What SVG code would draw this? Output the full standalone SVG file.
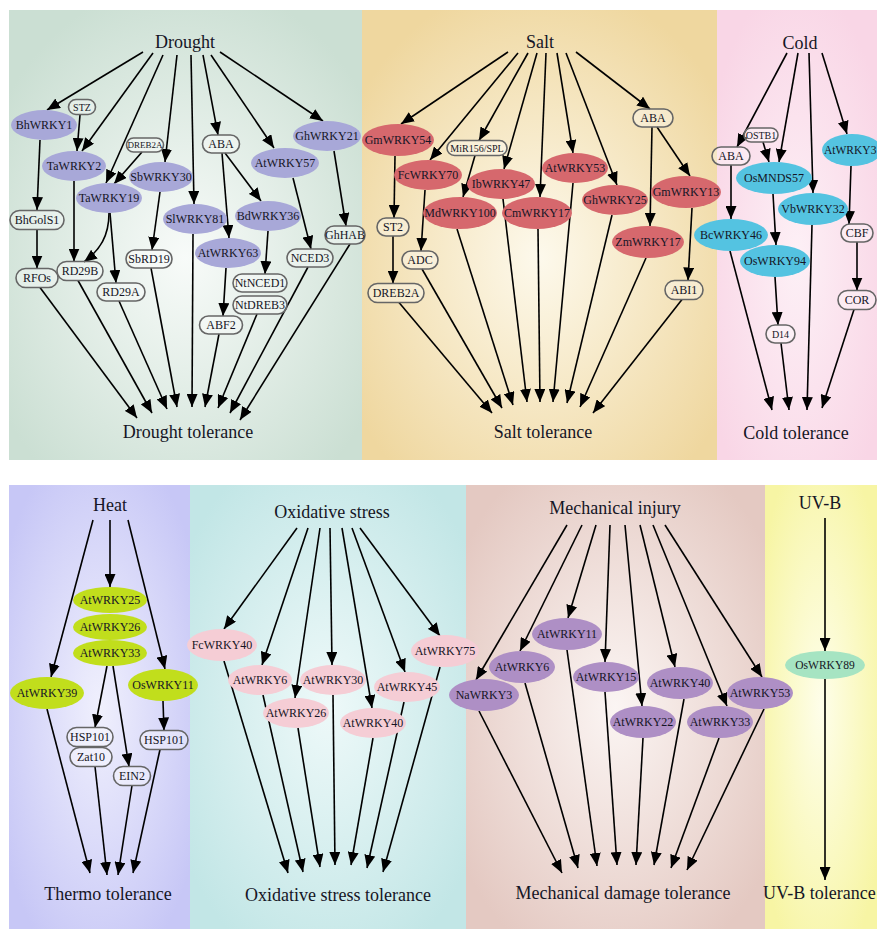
<svg xmlns="http://www.w3.org/2000/svg" width="877" height="929" viewBox="0 0 877 929">
<defs>
<style>
text{font-family:"Liberation Serif","Times New Roman",serif;fill:#151525;text-anchor:middle;dominant-baseline:central}
.ti{font-size:18px}
.n{font-size:12px}
.s{font-size:10px}
.xs{font-size:9px}
.bx{fill:#ffffff;fill-opacity:.35;stroke:#666666;stroke-width:1.6}
.dr{fill:#a8a8d8}.sa{fill:#d6686d}.co{fill:#54c3e1}.he{fill:#c1de1c}.ox{fill:#f5cdd5}.me{fill:#ae8fc5}.uv{fill:#a6e4c2}
#edges line,#edges path{stroke:#000;stroke-width:1.6;fill:none;marker-end:url(#ah)}
</style>
<marker id="ah" viewBox="0 0 13 11" refX="13" refY="5.5" markerWidth="13" markerHeight="11" orient="auto" markerUnits="userSpaceOnUse"><path d="M0,0 L13,5.5 L0,11 z" fill="#000"/></marker>
<radialGradient id="gDr" cx="0.5" cy="0.55" r="0.62"><stop offset="0" stop-color="#f8fbf9"/><stop offset="1" stop-color="#cbdfd3"/></radialGradient>
<radialGradient id="gSa" cx="0.5" cy="0.55" r="0.62"><stop offset="0" stop-color="#fdf9ec"/><stop offset="1" stop-color="#efd79f"/></radialGradient>
<radialGradient id="gCo" cx="0.5" cy="0.55" r="0.62"><stop offset="0" stop-color="#fdf0f6"/><stop offset="1" stop-color="#f9d6e6"/></radialGradient>
<radialGradient id="gHe" cx="0.5" cy="0.5" r="0.62"><stop offset="0" stop-color="#f0f0fd"/><stop offset="1" stop-color="#c7c7f6"/></radialGradient>
<radialGradient id="gOx" cx="0.5" cy="0.5" r="0.62"><stop offset="0" stop-color="#eef9f9"/><stop offset="1" stop-color="#c2e6e6"/></radialGradient>
<radialGradient id="gMe" cx="0.5" cy="0.5" r="0.62"><stop offset="0" stop-color="#fbf5f3"/><stop offset="1" stop-color="#e4c9c2"/></radialGradient>
<radialGradient id="gUv" cx="0.5" cy="0.5" r="0.62"><stop offset="0" stop-color="#fefeea"/><stop offset="1" stop-color="#f7f5a4"/></radialGradient>
</defs>
<rect width="877" height="929" fill="#ffffff"/>
<g id="panels">
<rect x="9" y="10" width="353" height="450" fill="url(#gDr)"/>
<rect x="362" y="10" width="355" height="450" fill="url(#gSa)"/>
<rect x="717" y="10" width="160" height="450" fill="url(#gCo)"/>
<rect x="9" y="485" width="181" height="444" fill="url(#gHe)"/>
<rect x="190" y="485" width="276" height="444" fill="url(#gOx)"/>
<rect x="466" y="485" width="299" height="444" fill="url(#gMe)"/>
<rect x="765" y="485" width="112" height="444" fill="url(#gUv)"/>
</g>
<g id="edges">
<!-- Drought -->
<line x1="143" y1="52" x2="47" y2="110"/>
<line x1="153" y1="53" x2="82" y2="151"/>
<line x1="163" y1="55" x2="106" y2="183"/>
<line x1="177" y1="55" x2="165" y2="162"/>
<line x1="191" y1="55" x2="194" y2="204"/>
<line x1="203" y1="55" x2="218" y2="135"/>
<line x1="211" y1="55" x2="274" y2="148"/>
<line x1="220" y1="52" x2="323" y2="121"/>
<line x1="80" y1="115" x2="77" y2="151"/>
<line x1="40" y1="140" x2="37" y2="210"/>
<line x1="142" y1="152" x2="114" y2="184"/>
<line x1="225" y1="153" x2="261" y2="201"/>
<line x1="222" y1="153" x2="229" y2="238"/>
<line x1="268" y1="231" x2="265" y2="274"/>
<line x1="226" y1="268" x2="223" y2="316"/>
<line x1="293" y1="178" x2="311" y2="249"/>
<line x1="334" y1="151" x2="346" y2="226"/>
<line x1="74" y1="181" x2="74" y2="261.5"/>
<path d="M109,213 C109,236 100,250 84,262"/>
<line x1="110" y1="213" x2="116" y2="283"/>
<line x1="160" y1="192" x2="152" y2="250"/>
<line x1="37" y1="229.5" x2="37" y2="268.5"/>
<line x1="193" y1="234" x2="192" y2="407"/>
<line x1="151" y1="268" x2="177" y2="407"/>
<line x1="308" y1="267" x2="230" y2="413"/>
<line x1="350" y1="244" x2="240" y2="420"/>
<line x1="257" y1="314" x2="218" y2="408"/>
<line x1="219" y1="334" x2="205" y2="407"/>
<line x1="119" y1="301" x2="167" y2="409"/>
<line x1="78" y1="280.5" x2="152" y2="413"/>
<line x1="40" y1="287.5" x2="137" y2="418"/>
<!-- Salt -->
<line x1="508" y1="52" x2="401" y2="124"/>
<line x1="518" y1="53" x2="430" y2="160"/>
<line x1="528" y1="53" x2="479" y2="140.5"/>
<line x1="537" y1="53" x2="504" y2="169"/>
<line x1="546" y1="53" x2="540" y2="197"/>
<line x1="557" y1="53" x2="573" y2="153"/>
<line x1="566" y1="53" x2="617" y2="185"/>
<line x1="576" y1="52" x2="650" y2="109"/>
<line x1="395" y1="156" x2="394" y2="218"/>
<line x1="393" y1="236" x2="393" y2="283.5"/>
<line x1="425" y1="190" x2="421" y2="251"/>
<line x1="475" y1="155.5" x2="463" y2="197"/>
<line x1="657" y1="127" x2="690" y2="176"/>
<line x1="652" y1="127" x2="650" y2="226"/>
<line x1="692" y1="208" x2="688" y2="280.5"/>
<line x1="399" y1="302.5" x2="492" y2="413"/>
<line x1="422" y1="269" x2="502" y2="408"/>
<line x1="457" y1="229" x2="513" y2="405"/>
<line x1="503" y1="199" x2="527" y2="402"/>
<line x1="538" y1="229" x2="540" y2="402"/>
<line x1="573" y1="183" x2="553" y2="402"/>
<line x1="612" y1="215" x2="567" y2="403"/>
<line x1="646" y1="258" x2="580" y2="407"/>
<line x1="682" y1="299.5" x2="593" y2="413"/>
<!-- Cold -->
<line x1="787" y1="53" x2="737" y2="147"/>
<line x1="798" y1="53" x2="779" y2="162"/>
<line x1="809" y1="53" x2="813" y2="193"/>
<line x1="822" y1="53" x2="847" y2="134"/>
<line x1="763" y1="142" x2="769" y2="162"/>
<line x1="731" y1="165" x2="731" y2="219"/>
<line x1="773" y1="194" x2="776" y2="245"/>
<line x1="851" y1="166" x2="849" y2="224"/>
<line x1="857" y1="242" x2="857" y2="290.5"/>
<line x1="775" y1="277" x2="778" y2="325"/>
<line x1="730" y1="251" x2="772" y2="410"/>
<line x1="781" y1="343" x2="789" y2="410"/>
<line x1="812" y1="225" x2="807" y2="410"/>
<line x1="854" y1="309.5" x2="822" y2="408"/>
<!-- Heat -->
<line x1="93" y1="520" x2="51" y2="677"/>
<line x1="110" y1="520" x2="110" y2="587"/>
<line x1="128" y1="520" x2="165" y2="669"/>
<line x1="107" y1="666" x2="95" y2="727.5"/>
<line x1="113" y1="666" x2="129" y2="766.5"/>
<line x1="163" y1="701" x2="164" y2="730.5"/>
<line x1="47" y1="709" x2="90" y2="873"/>
<line x1="95" y1="766.5" x2="107" y2="875"/>
<line x1="132" y1="785.5" x2="118" y2="875"/>
<line x1="160" y1="749.5" x2="133" y2="873"/>
<!-- Oxidative -->
<line x1="297" y1="528" x2="224" y2="629"/>
<line x1="308" y1="528" x2="262" y2="665"/>
<line x1="320" y1="528" x2="295" y2="698"/>
<line x1="330" y1="528" x2="332" y2="665"/>
<line x1="342" y1="528" x2="372" y2="708"/>
<line x1="352" y1="528" x2="405" y2="672"/>
<line x1="360" y1="528" x2="440" y2="636"/>
<line x1="224" y1="661" x2="288" y2="873"/>
<line x1="263" y1="695" x2="303" y2="872"/>
<line x1="298" y1="728" x2="320" y2="867"/>
<line x1="333" y1="695" x2="335" y2="865"/>
<line x1="373" y1="738" x2="351" y2="865"/>
<line x1="404" y1="702" x2="367" y2="868"/>
<line x1="440" y1="667" x2="383" y2="872"/>
<!-- Mechanical -->
<line x1="567" y1="525" x2="476" y2="680"/>
<line x1="582" y1="525" x2="520" y2="651"/>
<line x1="596" y1="525" x2="568" y2="618"/>
<line x1="610" y1="525" x2="605" y2="662"/>
<line x1="625" y1="525" x2="642" y2="706"/>
<line x1="640" y1="525" x2="675" y2="667"/>
<line x1="653" y1="525" x2="727" y2="706"/>
<line x1="665" y1="525" x2="762" y2="677"/>
<line x1="479" y1="711" x2="562" y2="873"/>
<line x1="525" y1="683" x2="578" y2="868"/>
<line x1="567" y1="650" x2="597" y2="866"/>
<line x1="605" y1="692" x2="617" y2="865"/>
<line x1="643" y1="738" x2="636" y2="865"/>
<line x1="684" y1="699" x2="654" y2="865"/>
<line x1="719" y1="738" x2="671" y2="868"/>
<line x1="764" y1="709" x2="687" y2="870"/>
<!-- UV-B -->
<line x1="825" y1="518" x2="825" y2="651"/>
<line x1="825" y1="679" x2="825" y2="880"/>
</g>
<!-- Titles -->
<g id="t-drought"><text class="ti" x="185" y="42">Drought</text></g>
<g id="t-drought-tol"><text class="ti" x="188" y="432">Drought tolerance</text></g>
<g id="t-salt"><text class="ti" x="540" y="42">Salt</text></g>
<g id="t-salt-tol"><text class="ti" x="543" y="432">Salt tolerance</text></g>
<g id="t-cold"><text class="ti" x="800" y="43">Cold</text></g>
<g id="t-cold-tol"><text class="ti" x="796" y="433">Cold tolerance</text></g>
<g id="t-heat"><text class="ti" x="110" y="505">Heat</text></g>
<g id="t-heat-tol"><text class="ti" x="108" y="894">Thermo tolerance</text></g>
<g id="t-ox"><text class="ti" x="332" y="512">Oxidative stress</text></g>
<g id="t-ox-tol"><text class="ti" x="338" y="895">Oxidative stress tolerance</text></g>
<g id="t-mech"><text class="ti" x="615" y="508">Mechanical injury</text></g>
<g id="t-mech-tol"><text class="ti" x="623" y="893">Mechanical damage tolerance</text></g>
<g id="t-uvb"><text class="ti" x="820" y="503">UV-B</text></g>
<g id="t-uvb-tol"><text class="ti" x="763" y="893" style="text-anchor:start">UV-B tolerance</text></g>
<!-- Drought nodes -->
<g id="d-bhwrky1"><ellipse class="dr" cx="44" cy="125" rx="33" ry="15"/><text class="n" x="44" y="125">BhWRKY1</text></g>
<g id="d-stz"><rect class="bx" x="68.5" y="99.5" width="27" height="15" rx="7.5"/><text class="s" x="82" y="107">STZ</text></g>
<g id="d-tawrky2"><ellipse class="dr" cx="74" cy="166" rx="32" ry="15"/><text class="n" x="74" y="166">TaWRKY2</text></g>
<g id="d-dreb2a"><rect class="bx" x="126.5" y="138" width="37" height="14" rx="7"/><text class="xs" x="145" y="145">DREB2A</text></g>
<g id="d-sbwrky30"><ellipse class="dr" cx="161" cy="177" rx="32" ry="15"/><text class="n" x="161" y="177">SbWRKY30</text></g>
<g id="d-tawrky19"><ellipse class="dr" cx="109" cy="198" rx="33" ry="15"/><text class="n" x="109" y="198">TaWRKY19</text></g>
<g id="d-aba"><rect class="bx" x="202.5" y="135" width="37" height="18" rx="9"/><text class="n" x="221" y="144">ABA</text></g>
<g id="d-atwrky57"><ellipse class="dr" cx="285" cy="163" rx="34" ry="15"/><text class="n" x="285" y="163">AtWRKY57</text></g>
<g id="d-ghwrky21"><ellipse class="dr" cx="327" cy="136" rx="34" ry="15"/><text class="n" x="327" y="136">GhWRKY21</text></g>
<g id="d-slwrky81"><ellipse class="dr" cx="195" cy="219" rx="32" ry="15"/><text class="n" x="195" y="219">SlWRKY81</text></g>
<g id="d-bdwrky36"><ellipse class="dr" cx="268" cy="216" rx="33" ry="15"/><text class="n" x="268" y="216">BdWRKY36</text></g>
<g id="d-bhgols1"><rect class="bx" x="10" y="210.5" width="54" height="19" rx="9.5"/><text class="n" x="37" y="220">BhGolS1</text></g>
<g id="d-ghhab"><rect class="bx" x="325" y="226" width="40" height="18" rx="9"/><text class="n" x="345" y="235">GhHAB</text></g>
<g id="d-atwrky63"><ellipse class="dr" cx="228" cy="253" rx="33" ry="15"/><text class="n" x="228" y="253">AtWRKY63</text></g>
<g id="d-sbrd19"><rect class="bx" x="126" y="250" width="46" height="18" rx="9"/><text class="n" x="149" y="259">SbRD19</text></g>
<g id="d-nced3"><rect class="bx" x="287" y="249" width="46" height="18" rx="9"/><text class="n" x="310" y="258">NCED3</text></g>
<g id="d-rd29b"><rect class="bx" x="57" y="261.5" width="46" height="19" rx="9.5"/><text class="n" x="80" y="271">RD29B</text></g>
<g id="d-rfos"><rect class="bx" x="16" y="268.5" width="42" height="19" rx="9.5"/><text class="n" x="37" y="278">RFOs</text></g>
<g id="d-rd29a"><rect class="bx" x="97" y="283" width="48" height="18" rx="9"/><text class="n" x="121" y="292">RD29A</text></g>
<g id="d-ntnced1"><rect class="bx" x="233" y="274" width="54" height="18" rx="9"/><text class="n" x="260" y="283">NtNCED1</text></g>
<g id="d-ntdreb3"><rect class="bx" x="233" y="296" width="54" height="18" rx="9"/><text class="n" x="260" y="305">NtDREB3</text></g>
<g id="d-abf2"><rect class="bx" x="199.5" y="316" width="43" height="18" rx="9"/><text class="n" x="221" y="325">ABF2</text></g>
<!-- Salt nodes -->
<g id="s-gmwrky54"><ellipse class="sa" cx="398" cy="140" rx="36" ry="16"/><text class="n" x="398" y="140">GmWRKY54</text></g>
<g id="s-fcwrky70"><ellipse class="sa" cx="428" cy="175" rx="34" ry="15"/><text class="n" x="428" y="175">FcWRKY70</text></g>
<g id="s-mir156"><rect class="bx" x="447" y="140.5" width="60" height="15" rx="7.5"/><text class="s" x="477" y="148">MiR156/SPL</text></g>
<g id="s-ibwrky47"><ellipse class="sa" cx="501" cy="184" rx="34" ry="15"/><text class="n" x="501" y="184">IbWRKY47</text></g>
<g id="s-cmwrky17"><ellipse class="sa" cx="537" cy="213" rx="35" ry="16"/><text class="n" x="537" y="213">CmWRKY17</text></g>
<g id="s-atwrky53"><ellipse class="sa" cx="575" cy="168" rx="33" ry="15"/><text class="n" x="575" y="168">AtWRKY53</text></g>
<g id="s-ghwrky25"><ellipse class="sa" cx="615" cy="200" rx="33" ry="15"/><text class="n" x="615" y="200">GhWRKY25</text></g>
<g id="s-aba"><rect class="bx" x="633" y="109" width="40" height="18" rx="9"/><text class="n" x="653" y="118">ABA</text></g>
<g id="s-mdwrky100"><ellipse class="sa" cx="460" cy="213" rx="37" ry="16"/><text class="n" x="460" y="213">MdWRKY100</text></g>
<g id="s-gmwrky13"><ellipse class="sa" cx="686" cy="192" rx="35" ry="16"/><text class="n" x="686" y="192">GmWRKY13</text></g>
<g id="s-st2"><rect class="bx" x="377" y="218" width="32" height="18" rx="9"/><text class="n" x="393" y="227">ST2</text></g>
<g id="s-zmwrky17"><ellipse class="sa" cx="648" cy="242" rx="36" ry="16"/><text class="n" x="648" y="242">ZmWRKY17</text></g>
<g id="s-adc"><rect class="bx" x="402" y="251" width="36" height="18" rx="9"/><text class="n" x="420" y="260">ADC</text></g>
<g id="s-dreb2a"><rect class="bx" x="368" y="283.5" width="56" height="19" rx="9.5"/><text class="n" x="396" y="293">DREB2A</text></g>
<g id="s-abi1"><rect class="bx" x="665" y="280.5" width="38" height="19" rx="9.5"/><text class="n" x="684" y="290">ABI1</text></g>
<!-- Cold nodes -->
<g id="c-aba"><rect class="bx" x="712" y="147" width="38" height="18" rx="9"/><text class="n" x="731" y="156">ABA</text></g>
<g id="c-ostb1"><rect class="bx" x="744" y="128" width="34" height="14" rx="7"/><text class="s" x="761" y="135">OSTB1</text></g>
<g id="c-osmnds57"><ellipse class="co" cx="774" cy="178" rx="38" ry="16"/><text class="n" x="774" y="178">OsMNDS57</text></g>
<g id="c-atwrky3"><ellipse class="co" cx="852" cy="150" rx="30" ry="16"/><text class="n" x="824" y="150" style="text-anchor:start;font-size:11.5px">AtWRKY3</text></g>
<g id="c-vbwrky32"><ellipse class="co" cx="813" cy="209" rx="35" ry="16"/><text class="n" x="813" y="209">VbWRKY32</text></g>
<g id="c-bcwrky46"><ellipse class="co" cx="731" cy="235" rx="37" ry="16"/><text class="n" x="731" y="235">BcWRKY46</text></g>
<g id="c-oswrky94"><ellipse class="co" cx="775" cy="261" rx="35" ry="16"/><text class="n" x="775" y="261">OsWRKY94</text></g>
<g id="c-cbf"><rect class="bx" x="841" y="224" width="32" height="18" rx="9"/><text class="n" x="857" y="233">CBF</text></g>
<g id="c-cor"><rect class="bx" x="838" y="290.5" width="38" height="19" rx="9.5"/><text class="n" x="857" y="300">COR</text></g>
<g id="c-d14"><rect class="bx" x="766" y="325" width="29" height="18" rx="9"/><text class="s" x="780.5" y="334">D14</text></g>
<!-- Heat nodes -->
<g id="h-atwrky39"><ellipse class="he" cx="47" cy="693" rx="37" ry="16"/><text class="n" x="47" y="693">AtWRKY39</text></g>
<g id="h-atwrky25"><ellipse class="he" cx="110" cy="600" rx="37" ry="13"/><text class="n" x="110" y="600">AtWRKY25</text></g>
<g id="h-atwrky26"><ellipse class="he" cx="110" cy="627" rx="37" ry="13"/><text class="n" x="110" y="627">AtWRKY26</text></g>
<g id="h-atwrky33"><ellipse class="he" cx="110" cy="653" rx="37" ry="13"/><text class="n" x="110" y="653">AtWRKY33</text></g>
<g id="h-oswrky11"><ellipse class="he" cx="163" cy="685" rx="35" ry="16"/><text class="n" x="163" y="685">OsWRKY11</text></g>
<g id="h-hsp101a"><rect class="bx" x="67" y="727.5" width="46" height="19" rx="9.5"/><text class="n" x="90" y="737">HSP101</text></g>
<g id="h-zat10"><rect class="bx" x="70" y="747.5" width="42" height="19" rx="9.5"/><text class="n" x="91" y="757">Zat10</text></g>
<g id="h-ein2"><rect class="bx" x="113.5" y="766.5" width="37" height="19" rx="9.5"/><text class="n" x="132" y="776">EIN2</text></g>
<g id="h-hsp101b"><rect class="bx" x="140" y="730.5" width="48" height="19" rx="9.5"/><text class="n" x="164" y="740">HSP101</text></g>
<!-- Oxidative nodes -->
<g id="o-fcwrky40"><ellipse class="ox" cx="222" cy="645" rx="35" ry="16"/><text class="n" x="222" y="645">FcWRKY40</text></g>
<g id="o-atwrky6"><ellipse class="ox" cx="260" cy="680" rx="32" ry="15"/><text class="n" x="260" y="680">AtWRKY6</text></g>
<g id="o-atwrky26"><ellipse class="ox" cx="296" cy="713" rx="33" ry="15"/><text class="n" x="296" y="713">AtWRKY26</text></g>
<g id="o-atwrky30"><ellipse class="ox" cx="333" cy="680" rx="33" ry="15"/><text class="n" x="333" y="680">AtWRKY30</text></g>
<g id="o-atwrky40"><ellipse class="ox" cx="373" cy="723" rx="33" ry="15"/><text class="n" x="373" y="723">AtWRKY40</text></g>
<g id="o-atwrky45"><ellipse class="ox" cx="407" cy="687" rx="33" ry="15"/><text class="n" x="407" y="687">AtWRKY45</text></g>
<g id="o-atwrky75"><ellipse class="ox" cx="445" cy="651" rx="34" ry="16"/><text class="n" x="445" y="651">AtWRKY75</text></g>
<!-- Mechanical nodes -->
<g id="m-nawrky3"><ellipse class="me" cx="484" cy="695" rx="35" ry="16"/><text class="n" x="484" y="695">NaWRKY3</text></g>
<g id="m-atwrky6"><ellipse class="me" cx="522" cy="667" rx="33" ry="16"/><text class="n" x="522" y="667">AtWRKY6</text></g>
<g id="m-atwrky11"><ellipse class="me" cx="567" cy="634" rx="35" ry="16"/><text class="n" x="567" y="634">AtWRKY11</text></g>
<g id="m-atwrky15"><ellipse class="me" cx="606" cy="677" rx="33" ry="15"/><text class="n" x="606" y="677">AtWRKY15</text></g>
<g id="m-atwrky22"><ellipse class="me" cx="643" cy="722" rx="33" ry="16"/><text class="n" x="643" y="722">AtWRKY22</text></g>
<g id="m-atwrky40"><ellipse class="me" cx="680" cy="683" rx="33" ry="16"/><text class="n" x="680" y="683">AtWRKY40</text></g>
<g id="m-atwrky33"><ellipse class="me" cx="720" cy="722" rx="33" ry="16"/><text class="n" x="720" y="722">AtWRKY33</text></g>
<g id="m-atwrky53"><ellipse class="me" cx="760" cy="693" rx="33" ry="16"/><text class="n" x="760" y="693">AtWRKY53</text></g>
<!-- UV-B node -->
<g id="u-oswrky89"><ellipse class="uv" cx="825" cy="665" rx="40" ry="14"/><text class="n" x="825" y="665" style="font-size:11.5px">OsWRKY89</text></g>
</svg>
